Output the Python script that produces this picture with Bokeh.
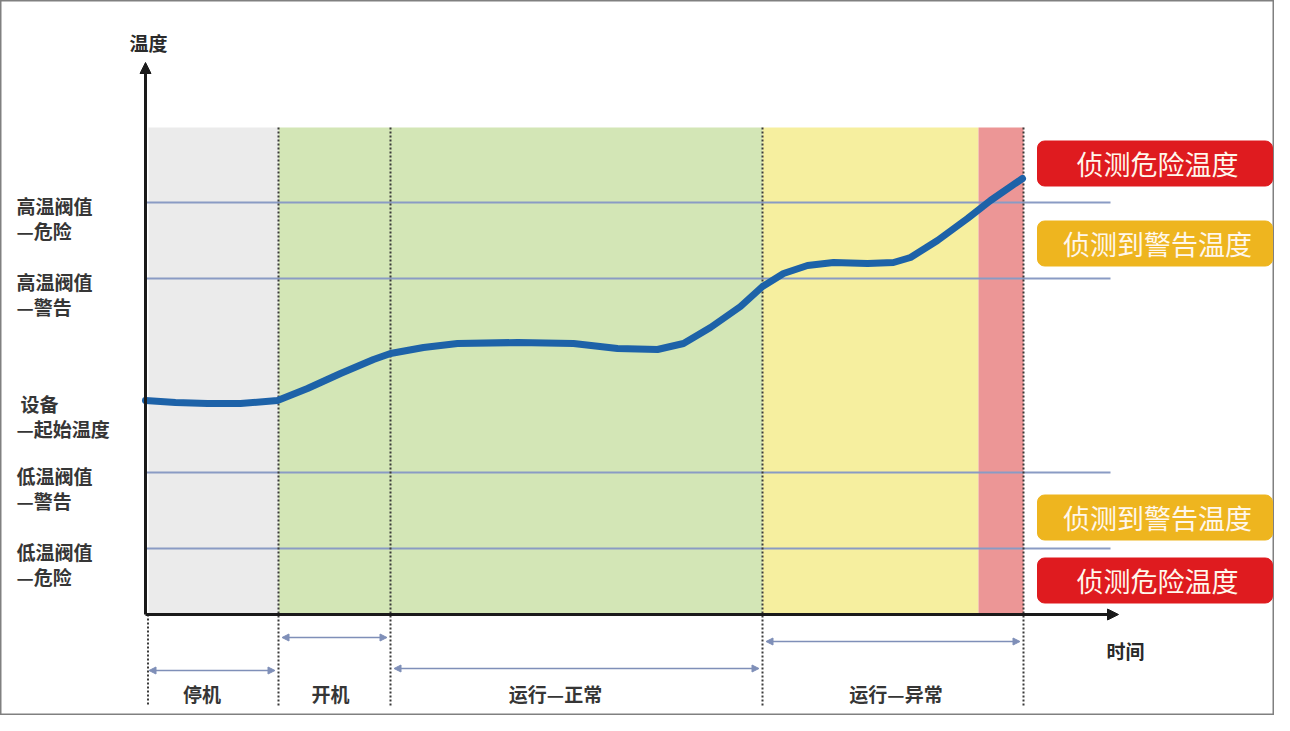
from bokeh.plotting import figure
from bokeh.models import Range1d, Arrow, NormalHead
from bokeh.core.properties import value
from bokeh.embed import file_html
from bokeh.resources import INLINE

FONT = value("Noto Sans CJK SC")

# ---------------- data ----------------
# phase boundaries on the time axis (arbitrary time units)
phase_names = ["停机", "开机", "运行—正常", "运行—异常"]
phase_start = [0.0, 13.3, 24.5, 61.7]
phase_end = [13.3, 24.5, 61.7, 87.8]

# shaded bands (background zones)
band_left = [0.3, 13.3, 61.7, 83.3]
band_right = [13.3, 61.7, 83.3, 87.8]
band_colors = ["#ebebeb", "#d3e6b6", "#f6ef9f", "#ec9696"]
band_top = 48.7

# temperature thresholds (arbitrary temperature units)
threshold_line1 = ["高温阀值", "高温阀值", "设备", "低温阀值", "低温阀值"]
threshold_line2 = ["—危险", "—警告", "—起始温度", "—警告", "—危险"]
threshold_values = [41.2, 33.6, 21.4, 14.2, 6.6]
threshold_has_line = [True, True, False, True, True]

# temperature curve
curve_t = [0.0, 3.0, 6.2, 9.5, 13.2, 16.2, 19.5, 22.8, 24.5, 27.8, 31.2, 37.2, 42.8,
           47.2, 51.2, 53.8, 56.5, 59.5, 61.7, 63.8, 66.2, 68.8, 72.2, 74.8,
           76.5, 79.2, 82.2, 84.5, 87.7]
curve_temp = [21.4, 21.2, 21.1, 21.1, 21.4, 22.6, 24.1, 25.5, 26.1, 26.7, 27.1, 27.2, 27.1,
              26.6, 26.5, 27.1, 28.7, 30.8, 32.8, 34.1, 34.9, 35.2, 35.1, 35.2,
              35.7, 37.4, 39.6, 41.4, 43.6]

# status badges on the right
badge_texts = ["侦测危险温度", "侦测到警告温度", "侦测到警告温度", "侦测危险温度"]
badge_colors = ["#df1b1f", "#eeb51f", "#eeb51f", "#df1b1f"]
badge_centers = [45.1, 37.1, 9.7, 3.4]

axis_y_label = "温度"
axis_x_label = "时间"

# ---------------- figure ----------------
W, H = 1274, 715
p = figure(width=W, height=H, x_range=Range1d(-14.5, 112.9), y_range=Range1d(-10.1, 61.4),
           x_axis_type=None, y_axis_type=None, toolbar_location=None,
           output_backend="svg", min_border=0)
p.xgrid.visible = False
p.ygrid.visible = False
p.outline_line_color = "#808080"
p.outline_line_width = 2
p.background_fill_color = "white"
p.border_fill_color = "white"

# background bands
p.quad(left=band_left, right=band_right, bottom=[0] * 4, top=[band_top] * 4,
       fill_color=band_colors, line_color=None)

# threshold lines
line_x_end = 96.5
ty = [v for v, h in zip(threshold_values, threshold_has_line) if h]
p.segment(x0=[0] * len(ty), y0=ty, x1=[line_x_end] * len(ty), y1=ty,
          line_color="#8a9bc4", line_width=2)

# vertical dotted phase separators
bottom_ext = -9.1
sep_x = phase_end
p.segment(x0=sep_x, y0=[band_top] * len(sep_x), x1=sep_x, y1=[bottom_ext] * len(sep_x),
          line_color="#3a3a3a", line_width=2, line_dash="2 2")
p.segment(x0=[0.25], y0=[0], x1=[0.25], y1=[bottom_ext],
          line_color="#3a3a3a", line_width=2, line_dash="2 2")

# temperature curve
p.line(curve_t, curve_temp, line_color="#1d62a8", line_width=7, line_join="round", line_cap="round")

# axes with arrow heads
p.add_layout(Arrow(x_start=0, y_start=0, x_end=0, y_end=55.2, line_width=3, line_color="#1a1a1a",
                   end=NormalHead(size=11, fill_color="#1a1a1a", line_color="#1a1a1a")))
p.add_layout(Arrow(x_start=0, y_start=0, x_end=97.3, y_end=0, line_width=3, line_color="#1a1a1a",
                   end=NormalHead(size=11, fill_color="#1a1a1a", line_color="#1a1a1a")))

# dimension arrows under the axis
arrow_rows = [-5.6, -2.3, -5.4, -2.7]
inset = 0.35
for s, e, yy in zip(phase_start, phase_end, arrow_rows):
    p.add_layout(Arrow(x_start=s + inset, y_start=yy, x_end=e - inset, y_end=yy,
                       line_color="#7f8fb8", line_width=1.5,
                       start=NormalHead(size=7, fill_color="#7f8fb8", line_color="#7f8fb8"),
                       end=NormalHead(size=7, fill_color="#7f8fb8", line_color="#7f8fb8")))

# phase labels
label_shift = [-1.0, -0.4, -2.1, 0.3]
lx = [(s + e) / 2 + d for s, e, d in zip(phase_start, phase_end, label_shift)]
p.text(x=lx, y=[-7.9] * 4, text=phase_names, text_font=FONT, text_font_size="19px",
       text_font_style="bold", text_color="#363636", text_align="center", text_baseline="middle")

# threshold labels on the left
lab_x = [-12.9, -12.9, -12.5, -12.9, -12.9]
p.text(x=lab_x, y=[v - 0.3 for v in threshold_values], text=threshold_line1, text_font=FONT,
       text_font_size="19px", text_font_style="bold", text_color="#363636",
       text_align="left", text_baseline="middle")
p.text(x=[-12.9] * 5, y=[v - 2.8 for v in threshold_values], text=threshold_line2, text_font=FONT,
       text_font_size="19px", text_font_style="bold", text_color="#363636",
       text_align="left", text_baseline="middle")

# axis titles
p.text(x=[0.3], y=[57.2], text=[axis_y_label], text_font=FONT, text_font_size="19px",
       text_font_style="bold", text_color="#2a2a2a", text_align="center", text_baseline="middle")
p.text(x=[98.0], y=[-3.6], text=[axis_x_label], text_font=FONT, text_font_size="19px",
       text_font_style="bold", text_color="#2a2a2a", text_align="center", text_baseline="middle")

# status badges
half_h = 2.25
p.quad(left=[89.2] * 4, right=[112.7] * 4,
       bottom=[c - half_h for c in badge_centers], top=[c + half_h for c in badge_centers],
       fill_color=badge_colors, line_color=badge_colors, border_radius=7)
p.text(x=[101.2] * 4, y=badge_centers, text=badge_texts, text_font=FONT, text_font_size="27px",
       text_color="#fff7ec", text_align="center", text_baseline="middle")

open("out.html", "w").write(file_html(p, INLINE))
